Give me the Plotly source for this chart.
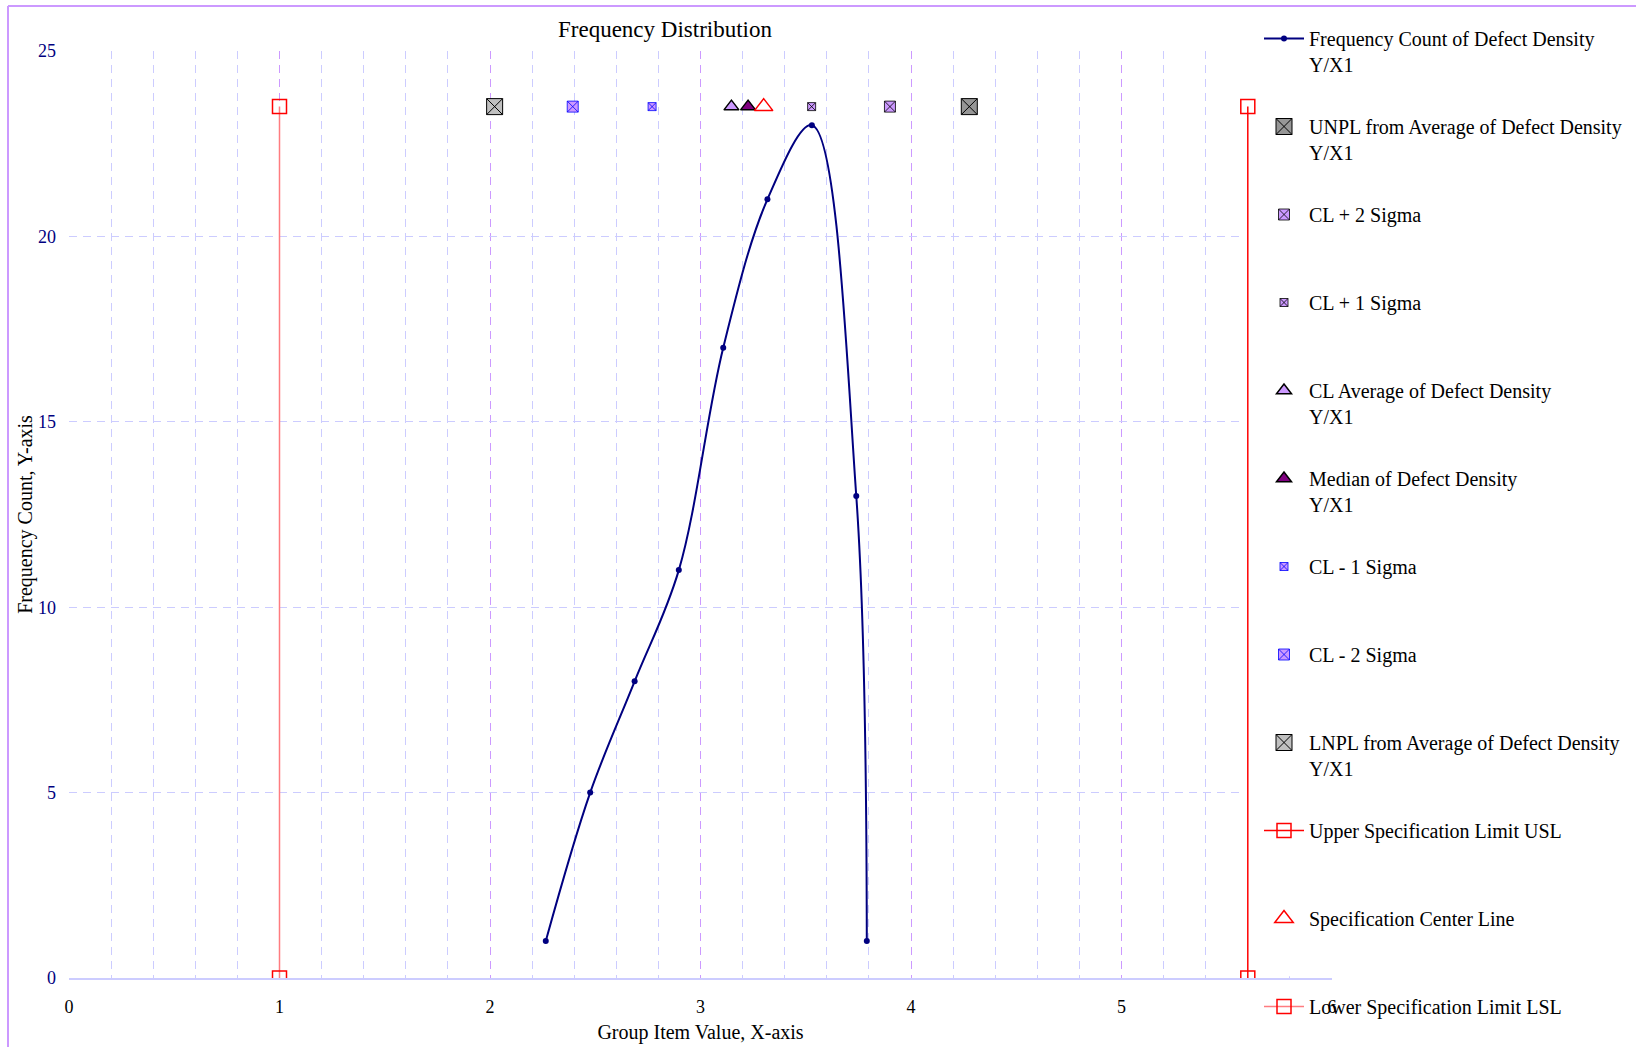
import plotly.graph_objects as go

# frequency of defect density (bin centre, count)
bin_x = [2.265, 2.476, 2.687, 2.897, 3.108, 3.318, 3.529, 3.740, 3.790]
counts = [1, 5, 8, 11, 17, 21, 23, 13, 1]

# reference markers drawn along the top of the chart
ref_level = 23.5
lnpl = 2.022
cl_minus_2 = 2.393
cl_minus_1 = 2.770
cl_avg = 3.147
median = 3.226
spec_center = 3.300
cl_plus_1 = 3.528
cl_plus_2 = 3.900
unpl = 4.277
lsl = 1.0
usl = 5.6

W, H = 1636, 1047
L, R, T, B = 69, 1332, 51, 978   # plot area in pixels


def px_x(p):
    return (p - L) / (R - L)


def px_y(p):
    return (B - p) / (B - T)


SERIF = "Liberation Serif, Times New Roman, serif"
LAV = "#CC99FF"
fig = go.Figure()


def one(name, x, sym, size, fill, line_col, lw=1):
    fig.add_trace(go.Scatter(
        x=[x], y=[ref_level], mode="markers", name=name, legendgroup=name,
        marker=dict(symbol=sym, size=size, color=fill,
                    line=dict(color=line_col, width=lw)),
    ))


fig.add_trace(go.Scatter(
    x=bin_x, y=counts, mode="lines+markers",
    name="Frequency Count of Defect Density<br>Y/X1",
    legendgroup="freq",
    line=dict(color="#000080", width=2, shape="spline", smoothing=1),
    marker=dict(symbol="circle", size=6, color="#000080"),
))
one("UNPL from Average of Defect Density<br>Y/X1", unpl, "square-x", 16, "#969696", "black")
one("CL + 2 Sigma<br> ", cl_plus_2, "square-x", 11, LAV, "black", 0.8)
one("CL + 1 Sigma<br> ", cl_plus_1, "square-x", 8, LAV, "black", 0.8)
one("CL Average of Defect Density<br>Y/X1", cl_avg, "triangle-up", 13, LAV, "black", 1.5)
one("Median of Defect Density<br>Y/X1", median, "triangle-up", 13, "#800080", "black", 1.5)
one("CL - 1 Sigma<br> ", cl_minus_1, "square-x", 8, LAV, "blue", 0.8)
one("CL - 2 Sigma<br> ", cl_minus_2, "square-x", 11, LAV, "blue", 0.8)
one("LNPL from Average of Defect Density<br>Y/X1", lnpl, "square-x", 16, "#C0C0C0", "black")

fig.add_trace(go.Scatter(
    x=[usl, usl], y=[0, ref_level], mode="lines+markers",
    name="Upper Specification Limit USL<br> ", legendgroup="usl",
    line=dict(color="red", width=1.5),
    marker=dict(symbol="square-open", size=14, color="red", line=dict(width=1.5)),
))
one("Specification Center Line<br> ", spec_center, "triangle-up-open", 16, "red", "red", 1.5)
fig.add_trace(go.Scatter(
    x=[lsl, lsl], y=[0, ref_level], mode="lines+markers",
    name="Lower Specification Limit LSL<br> ", legendgroup="lsl",
    line=dict(color="#FF7C80", width=1.5),
    marker=dict(symbol="square-open", size=14, color="red", line=dict(width=1.5)),
))

fig.update_layout(
    width=W, height=H,
    margin=dict(l=L, r=W - R, t=T, b=H - B, autoexpand=False),
    paper_bgcolor="white", plot_bgcolor="white",
    font=dict(family=SERIF, size=18, color="black"),
    title=dict(text="Frequency Distribution", x=px_x(665), xref="paper", xanchor="center",
               y=1 - 29 / H, yref="container", yanchor="middle",
               font=dict(family=SERIF, size=23, color="black")),
    legend=dict(x=px_x(1259), y=px_y(19), xanchor="left", yanchor="top",
                font=dict(family=SERIF, size=20, color="black"),
                valign="top", tracegroupgap=33, bgcolor="rgba(0,0,0,0)",
                itemwidth=40, maxheight=1100),
    showlegend=True,
)

fig.update_xaxes(
    range=[0, 6], dtick=1, tick0=0,
    showgrid=True, gridcolor=LAV, griddash="8px,6px", gridwidth=1,
    minor=dict(dtick=0.2, showgrid=True, gridcolor="#CCCCFF", griddash="8px,6px", gridwidth=1),
    showline=True, linecolor="#CCCCFF", linewidth=2,
    ticks="", ticklabelstandoff=11, zeroline=False,
    tickfont=dict(family=SERIF, size=18, color="black"),
    title=dict(text="Group Item Value, X-axis", standoff=9,
               font=dict(family=SERIF, size=20, color="black")),
)
fig.update_yaxes(
    range=[0, 25], dtick=5, tick0=0,
    showgrid=True, gridcolor="#CCCCFF", griddash="8px,6px", gridwidth=1,
    showline=False, zeroline=False, ticks="", ticklabelstandoff=12,
    tickfont=dict(family=SERIF, size=18, color="#000080"),
    title=dict(text="Frequency Count, Y-axis", standoff=0,
               font=dict(family=SERIF, size=20, color="black")),
)

# plot area is hidden behind the legend box beyond ~5.585
fig.add_shape(type="rect", xref="x", yref="y", x0=5.585, x1=6.2, y0=0.05, y1=25.5,
              fillcolor="white", line=dict(width=0), layer="between")
# outer chart frame (left and top edges visible)
fig.add_shape(type="line", xref="paper", yref="paper",
              x0=px_x(8), x1=px_x(8), y0=px_y(H + 5), y1=px_y(6),
              line=dict(color=LAV, width=2))
fig.add_shape(type="line", xref="paper", yref="paper",
              x0=px_x(8), x1=px_x(W + 5), y0=px_y(6), y1=px_y(6),
              line=dict(color=LAV, width=2))

fig.write_html("out.html", config={"displayModeBar": False},
               post_script="document.body.style.margin='0px';")
